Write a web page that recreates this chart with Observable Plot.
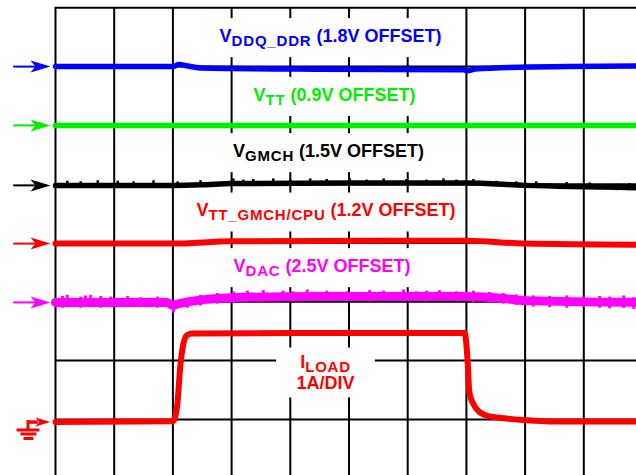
<!DOCTYPE html>
<html><head><meta charset="utf-8">
<script src="https://cdn.jsdelivr.net/npm/d3@7"></script>
<script src="https://cdn.jsdelivr.net/npm/@observablehq/plot@0.6"></script>
<style>html,body{margin:0;padding:0;background:#fff;overflow:hidden}</style>
</head><body><div id="chart"></div>
<script>
// Oscilloscope screen: 10 horizontal divisions (time), 8 vertical divisions
const gridX = [0, 1, 2, 3, 4, 5, 6, 7, 8, 9, 10];
const gridY = [0, 1, 2, 3, 4, 5, 6, 7, 8];

// traces: [time div, vertical div]
const vddqDdr = [[0,7.0],[2.0,7.0],[2.1,7.035],[2.25,7.01],[2.5,6.975],[4.5,6.955],[6.95,6.945],[7.02,6.93],[7.15,6.96],[7.9,6.99],[10,7.01]];
const vtt = [[0,6.0],[10,6.0]];
const vgmch = [[0,4.98],[2.0,4.98],[2.5,4.99],[3.0,5.01],[5,5.02],[7.0,5.02],[8.0,4.98],[10,4.94]];
const vttGmchCpu = [[0,3.99],[2.0,3.99],[3.0,4.03],[7.0,4.04],[8.0,3.99],[10,3.97]];
const vdac = [[0,2.99],[1.9,2.99],[2.0,2.94],[2.1,2.97],[3.0,3.07],[4.5,3.09],[7.0,3.09],[7.6,3.06],[8.0,3.02],[10,2.99]];
const iload = [[0,0.955],[2.0,0.97],[2.07,1.21],[2.13,1.95],[2.18,2.29],[2.24,2.43],[2.33,2.46],[4.0,2.47],[6.97,2.47],[7.02,2.0],[7.05,1.46],[7.12,1.26],[7.23,1.12],[7.40,1.05],[7.63,1.02],[7.97,0.99],[8.42,0.965],[10,0.965]];

// noise spikes: [time div, low, high]
const vgmchNoise = [[0.2,4.93,5.05],[0.43,4.94,5.04],[0.72,4.93,5.06],[1.06,4.94,5.05],[1.33,4.93,5.04],[1.67,4.94,5.06],[2.08,4.94,5.04],[2.47,4.95,5.06],[3.03,4.97,5.09],[3.2,4.97,5.07],[3.37,4.97,5.08],[3.71,4.98,5.09],[4.0,4.97,5.07],[4.34,4.98,5.09],[4.62,4.98,5.08],[5.01,4.98,5.10],[5.3,4.98,5.07],[5.59,4.97,5.09],[5.98,4.98,5.08],[6.32,4.98,5.07],[6.61,4.97,5.09],[6.83,4.98,5.07],[7.12,4.97,5.08],[7.51,4.95,5.05],[7.85,4.94,5.04],[8.19,4.93,5.04],[8.71,4.92,5.03],[9.1,4.91,5.02],[9.56,4.89,5.0],[9.78,4.89,5.01]];
const vdacNoise = [[0.12,2.89,3.09],[0.2,2.90,3.11],[0.43,2.89,3.08],[0.51,2.90,3.10],[0.6,2.91,3.11],[0.77,2.89,3.09],[0.94,2.90,3.08],[1.23,2.91,3.09],[1.45,2.90,3.07],[1.74,2.89,3.08],[2.01,2.81,3.01],[2.25,2.89,3.06],[2.47,2.93,3.11],[2.76,2.96,3.14],[3.03,2.98,3.17],[3.27,3.00,3.18],[3.54,3.00,3.19],[3.88,3.01,3.18],[4.05,3.00,3.17],[4.29,3.01,3.20],[4.62,3.00,3.18],[4.96,3.01,3.17],[5.35,3.00,3.19],[5.59,3.01,3.18],[5.93,3.00,3.20],[6.15,3.01,3.17],[6.32,3.00,3.18],[6.54,3.01,3.19],[6.83,3.00,3.17],[7.12,2.99,3.18],[7.39,2.98,3.16],[7.63,2.96,3.14],[7.85,2.94,3.12],[8.14,2.91,3.10],[8.42,2.90,3.09],[8.71,2.89,3.10],[8.99,2.90,3.08],[9.27,2.89,3.09],[9.44,2.88,3.08],[9.68,2.89,3.10],[9.85,2.87,3.07]];

// labels
const labelMain = ["V", "V", "V", "V", "V", "I", "1A/DIV"];
const labelSub  = ["DDQ_DDR", "TT", "GMCH", "TT_GMCH/CPU", "DAC", "LOAD", ""];
const labelTail = [" (1.8V OFFSET)", " (0.9V OFFSET)", " (1.5V OFFSET)", " (1.2V OFFSET)", " (2.5V OFFSET)", "", ""];

// ---- layout & style (not data) ----
const labelPos = [[4.685,7.514],[4.753,6.514],[4.651,5.558],[4.608,4.549],[4.54,3.602],[4.6,1.98],[4.6,1.607]];
const labelColor = ["#0000ff", "#00ee00", "#000000", "#ff0000", "#ff00ff", "#ff0000", "#ff0000"];
const labelPad = [[4,8],[4,8],[4,8],[4,8],[4,8],[24,4],[20,4]];
const traces = [
  {data: vddqDdr, color: "#0000ff", w: 5.5},
  {data: vtt, color: "#00ee00", w: 5.5},
  {data: vgmch, color: "#000000", w: 5.5},
  {data: vttGmchCpu, color: "#ff0000", w: 6},
  {data: vdac, color: "#ff00ff", w: 9}
];
const arrowShaft = [-0.72, -0.3];
const arrowHeadX = -0.256;
const arrowSymbol = {draw(ctx, size) {
  const s = Math.sqrt(size / Math.PI);
  ctx.moveTo(s, 0); ctx.lineTo(-s, -0.6 * s); ctx.lineTo(-0.5 * s, 0); ctx.lineTo(-s, 0.6 * s); ctx.closePath();
}};
const gnd = {shaft: [-0.49, -0.3], headX: -0.213, stemX: -0.468, stemY: 0.83,
  bars: [[-0.664, -0.273, 0.82], [-0.596, -0.324, 0.752], [-0.545, -0.375, 0.675]]};

const idx = labelMain.map((_, i) => i);
const marks = [
  Plot.ruleX(gridX, {x: d => d, stroke: "#000", strokeWidth: 2}),
  Plot.ruleY(gridY, {y: d => d, stroke: "#000", strokeWidth: 2}),
  Plot.text(idx, {x: i => labelPos[i][0], y: i => labelPos[i][1], text: i => labelMain[i] + labelSub[i] + labelTail[i],
    fontFamily: "Liberation Sans, Arial, sans-serif", fontWeight: "bold", fontSize: 18, fill: "black", textAnchor: "middle"})
];
for (const t of traces) {
  marks.push(Plot.line(t.data, {x: d => d[0], y: d => d[1], stroke: t.color, strokeWidth: t.w, curve: "monotone-x"}));
}
marks.push(Plot.ruleX(vgmchNoise, {x: d => d[0], y1: d => d[1], y2: d => d[2], stroke: "#000", strokeWidth: 2.5}));
marks.push(Plot.ruleX(vdacNoise, {x: d => d[0], y1: d => d[1], y2: d => d[2], stroke: "#ff00ff", strokeWidth: 3}));
marks.push(Plot.line(iload, {x: d => d[0], y: d => d[1], stroke: "#ff0000", strokeWidth: 6, curve: "monotone-x"}));
for (const t of traces) {
  const lv = t.data[0][1];
  marks.push(Plot.link([lv], {x1: arrowShaft[0], x2: arrowShaft[1], y1: d => d, y2: d => d, stroke: t.color, strokeWidth: 2}));
  marks.push(Plot.dot([lv], {x: arrowHeadX, y: d => d, r: 10, symbol: arrowSymbol, fill: t.color, stroke: "none"}));
}
const g0 = iload[0][1];
marks.push(Plot.link([g0], {x1: gnd.shaft[0], x2: gnd.shaft[1], y1: d => d, y2: d => d, stroke: "#ff0000", strokeWidth: 3.5, strokeLinecap: "butt"}));
marks.push(Plot.dot([g0], {x: gnd.headX, y: d => d, r: 7.5, symbol: arrowSymbol, fill: "#ff0000", stroke: "none"}));
marks.push(Plot.link([g0], {x1: gnd.stemX, x2: gnd.stemX, y1: d => d + 0.03, y2: gnd.stemY, stroke: "#ff0000", strokeWidth: 3, strokeLinecap: "butt"}));
marks.push(Plot.link(gnd.bars, {x1: d => d[0], x2: d => d[1], y1: d => d[2], y2: d => d[2], stroke: "#ff0000", strokeWidth: 3, strokeLinecap: "butt"}));

const plot = Plot.plot({
  width: 636, height: 475, marginLeft: 55, marginTop: 7, marginRight: 0, marginBottom: 0,
  x: {domain: [0, 10], range: [55, 642], axis: null},
  y: {domain: [0, 8], range: [477.7, 7.3], axis: null},
  style: {background: "white", overflow: "visible"},
  marks
});
document.getElementById("chart").append(plot);

// rich labels with subscripts and white backing boxes
const ns = "http://www.w3.org/2000/svg";
const tg = plot.querySelector('g[aria-label="text"]');
const texts = Array.from(tg.querySelectorAll("text"));
texts.forEach((t, i) => {
  t.textContent = "";
  t.setAttribute("fill", labelColor[i]);
  const a = document.createElementNS(ns, "tspan"); a.textContent = labelMain[i]; t.append(a);
  if (labelSub[i]) {
    const b = document.createElementNS(ns, "tspan");
    b.setAttribute("font-size", 15); b.setAttribute("dy", 4); b.setAttribute("letter-spacing", 0.8);
    b.textContent = labelSub[i]; t.append(b);
  }
  if (labelTail[i]) {
    const c = document.createElementNS(ns, "tspan");
    c.setAttribute("dy", -4); c.textContent = labelTail[i]; t.append(c);
  }
});
texts.forEach((t, i) => {
  const bb = t.getBBox();
  const r = document.createElementNS(ns, "rect");
  r.setAttribute("x", bb.x - labelPad[i][0]); r.setAttribute("y", bb.y - labelPad[i][1]);
  r.setAttribute("width", bb.width + 2 * labelPad[i][0]); r.setAttribute("height", bb.height + 2 * labelPad[i][1]);
  r.setAttribute("fill", "white");
  if (t.getAttribute("transform")) r.setAttribute("transform", t.getAttribute("transform"));
  tg.insertBefore(r, tg.firstChild);
});
</script>
</body></html>
